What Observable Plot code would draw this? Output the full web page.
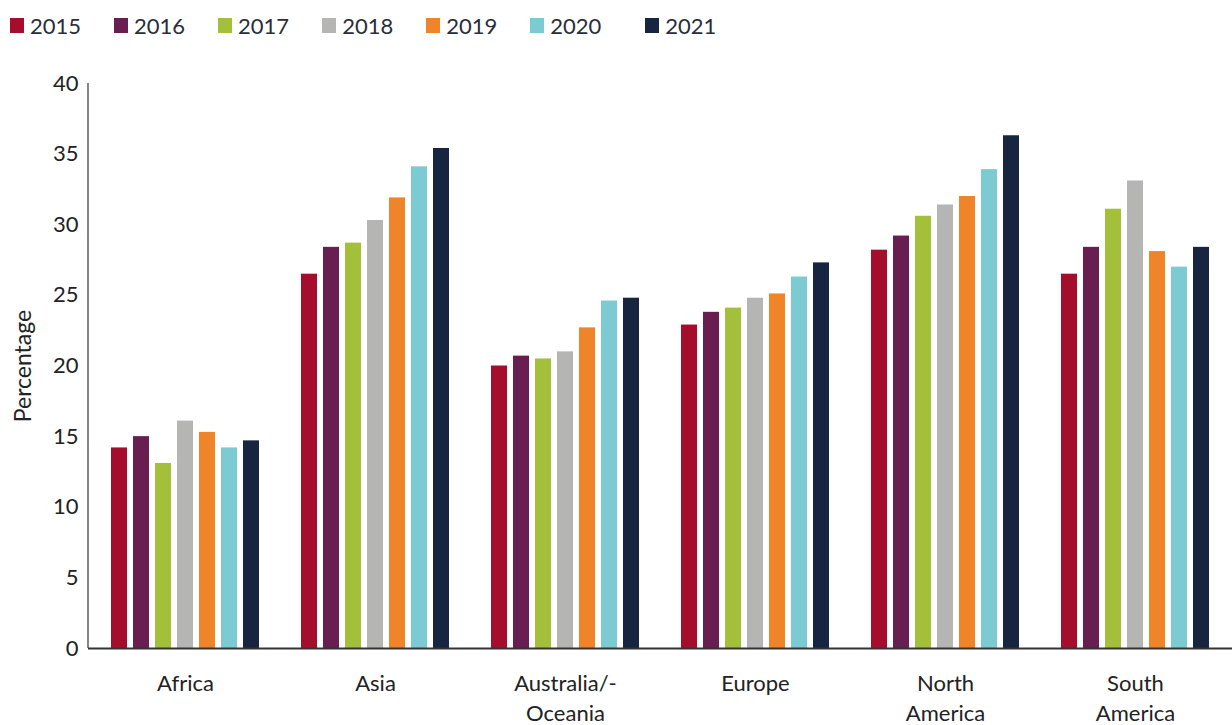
<!DOCTYPE html>
<html>
<head>
<meta charset="utf-8">
<script src="https://cdn.jsdelivr.net/npm/d3@7"></script>
<script src="https://cdn.jsdelivr.net/npm/@observablehq/plot@0.6"></script>
<style>
  body { margin: 0; background: #fff; font-family: Lato, "Open Sans", sans-serif; }
  #legend { display: flex; align-items: center; height: 50px; padding-left: 10px; box-sizing: border-box; }
  .item { display: flex; align-items: center; margin-right: 33px; font-size: 22px; color: #2a2d3a; }
  .sw { width: 14px; height: 15px; margin-right: 6px; }
</style>
</head>
<body>
<div id="legend"></div>
<div id="chart"></div>
<script>
const regions = ["Africa", "Asia", "Australia/Oceania", "Europe", "North America", "South America"];
const regionLabels = ["Africa", "Asia", "Australia/-\nOceania", "Europe", "North\nAmerica", "South\nAmerica"];
const years = ["2015", "2016", "2017", "2018", "2019", "2020", "2021"];
const colors = ["#a50d2d", "#681e51", "#a4c03b", "#b5b5b4", "#f08428", "#7ccad2", "#182540"];

// values per year, in region order
const v2015 = [14.2, 26.5, 20.0, 22.9, 28.2, 26.5];
const v2016 = [15.0, 28.4, 20.7, 23.8, 29.2, 28.4];
const v2017 = [13.1, 28.7, 20.5, 24.1, 30.6, 31.1];
const v2018 = [16.1, 30.3, 21.0, 24.8, 31.4, 33.1];
const v2019 = [15.3, 31.9, 22.7, 25.1, 32.0, 28.1];
const v2020 = [14.2, 34.1, 24.6, 26.3, 33.9, 27.0];
const v2021 = [14.7, 35.4, 24.8, 27.3, 36.3, 28.4];
const yTicks = [0, 5, 10, 15, 20, 25, 30, 35, 40];

const series = [v2015, v2016, v2017, v2018, v2019, v2020, v2021];
const data = [];
regions.forEach((r, i) => years.forEach((y, j) => data.push({region: r, year: y, value: series[j][i]})));

// legend
const legend = document.getElementById("legend");
years.forEach((y, j) => {
  const it = document.createElement("div");
  it.className = "item";
  if (j === years.length - 1) it.style.marginLeft = "11px";
  const sw = document.createElement("div");
  sw.className = "sw";
  sw.style.background = colors[j];
  it.appendChild(sw);
  it.appendChild(document.createTextNode(y));
  legend.appendChild(it);
});

const labelOf = new Map(regions.map((r, i) => [r, regionLabels[i]]));

const plot = Plot.plot({
  width: 1232,
  height: 700,
  marginLeft: 88,
  marginRight: 0,
  marginTop: 33,
  marginBottom: 102,
  style: {fontFamily: "Lato, 'Open Sans', sans-serif", color: "#222", background: "#fff"},
  fx: {domain: regions, paddingInner: 0.213, paddingOuter: 0.115},
  x: {domain: years, paddingInner: 0.27, paddingOuter: 0, axis: null},
  y: {domain: [0, 40]},
  color: {domain: years, range: colors},
  marks: [
    Plot.barY(data, {fx: "region", x: "year", y: "value", fill: "year"}),
    Plot.axisY({ticks: yTicks, tickSize: 0, tickPadding: 32, fontSize: 22, label: null}),
    Plot.axisY({ticks: [], tickSize: 0, fontSize: 23, label: "Percentage", labelAnchor: "center", labelArrow: "none", labelOffset: 96}),
    Plot.axisFx({anchor: "bottom", tickSize: 0, tickPadding: 21, fontSize: 22, lineHeight: 1.36, label: null, tickFormat: d => labelOf.get(d)})
  ]
});

document.getElementById("chart").appendChild(plot);

// axis lines drawn with the plot's own scales
const ys = plot.scale("y");
const y0 = ys.apply(0), y40 = ys.apply(40);
const svg = d3.select(plot);
svg.append("line").attr("x1", 88).attr("x2", 88).attr("y1", y40).attr("y2", y0)
  .attr("stroke", "#333").attr("stroke-width", 1.2);
svg.append("line").attr("x1", 88).attr("x2", 1232).attr("y1", y0 + 0.5).attr("y2", y0 + 0.5)
  .attr("stroke", "#333").attr("stroke-width", 2);
</script>
</body>
</html>
